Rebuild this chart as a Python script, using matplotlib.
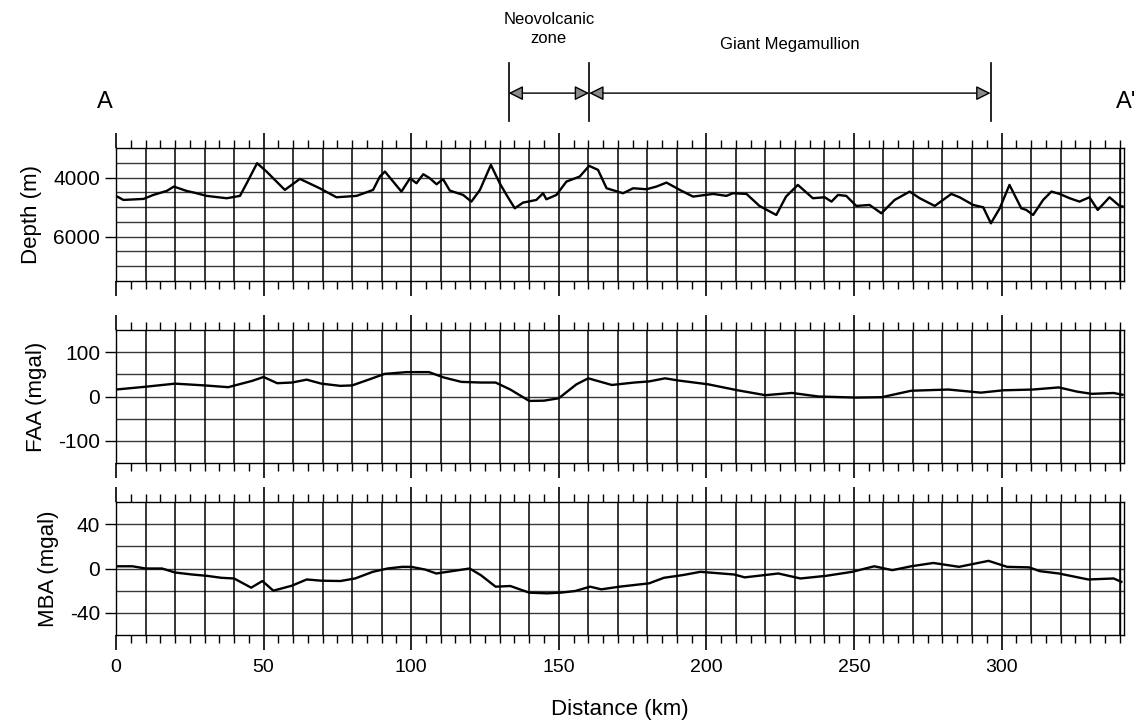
import numpy as np
import matplotlib.pyplot as plt

plt.rcParams['font.family'] = ['Liberation Sans', 'DejaVu Sans']
plt.rcParams['axes.unicode_minus'] = False

# depth profile (m)
depth_km = [0, 2.5, 9.3, 12.6, 17.2, 19.6, 23.9, 27.3, 30.7, 37.5, 42, 44.3, 47.8, 51,
            57.2, 62.3, 69, 74.7, 81.5, 87.1, 89.4, 91.1, 93.9, 96.7, 99.6, 101.8,
            104.1, 106.3, 108.6, 110.8, 113.1, 117.6, 120.4, 123.3, 127, 130, 132.3,
            135.1, 137.9, 142.4, 144.7, 145.8, 149.2, 152.6, 157.1, 160.3, 163.3,
            166.2, 171.8, 175.2, 179.7, 183.1, 186.5, 191, 195.5, 202.3, 206.8, 209,
            213.6, 218, 223.7, 227, 231, 236.1, 240.1, 242.4, 244.6, 247.4, 250.8,
            255.3, 259.3, 263.8, 268.9, 272.3, 277.4, 283, 285.8, 290.4, 293.8, 296.4,
            299.4, 302.7, 306.7, 308.4, 310.7, 314.1, 316.9, 319.7, 323.1, 326.4,
            329.8, 332.6, 336.6, 340, 341]
depth_m = [4620, 4757, 4723, 4590, 4452, 4305, 4452, 4530, 4620, 4700, 4620, 4190, 3514,
           3797, 4418, 4045, 4362, 4667, 4620, 4418, 3966, 3797, 4136, 4475, 4023, 4192,
           3887, 4023, 4226, 4056, 4441, 4588, 4814, 4418, 3571, 4192, 4588, 5040, 4848,
           4757, 4531, 4735, 4588, 4136, 3966, 3605, 3740, 4362, 4531, 4362, 4396, 4305,
           4170, 4418, 4644, 4554, 4620, 4531, 4554, 4960, 5266, 4644, 4249, 4700, 4667,
           4814, 4588, 4620, 4960, 4927, 5209, 4757, 4475, 4700, 4960, 4554, 4667, 4927,
           5006, 5548, 5040, 4249, 5040, 5096, 5266, 4757, 4475, 4554, 4700, 4814, 4667,
           5096, 4667, 4960, 4980]

# free-air anomaly (mgal)
faa_km = [0, 10, 20, 30, 38, 46, 50, 54.6, 59.6, 64.6, 69.6, 76, 80, 86, 91, 98.5, 106,
          111, 117, 123.6, 128.6, 133.6, 140, 145, 150, 156, 160, 168, 175.6, 180.6, 186,
          190.6, 200.6, 210.6, 220, 229, 238, 250.6, 259.4, 269.4, 282, 293, 300.6,
          310.6, 319.4, 325.6, 330.6, 338, 341]
faa = [15.7, 22, 29, 25, 21, 35, 44, 30, 31.5, 38, 29, 24, 25, 39, 51, 55, 55, 43, 33,
       31.5, 31.5, 15.7, -10, -9.4, -4, 27.5, 41, 26, 31.5, 34, 41, 36, 27.5, 14, 3, 8,
       0, -2.4, -1.6, 13, 15.7, 8.7, 14, 15.7, 20.5, 11, 6, 7.9, 4]

# mantle Bouguer anomaly (mgal)
mba_km = [0, 5.6, 10, 15.6, 20, 25.7, 30.7, 35.7, 40, 45.8, 49.6, 53.3, 59.6, 64.6, 69.6,
          76, 81, 87, 92, 97, 100, 104.8, 108.5, 114.8, 119.8, 123.6, 128.6, 133.6, 140,
          146, 150.6, 155.6, 160.6, 164.4, 170.6, 180.6, 185.6, 191.9, 198, 209.4, 213,
          224.4, 231.9, 240.6, 249.4, 256.9, 263, 269.4, 276.9, 285.6, 295.6, 301.9,
          309.4, 313, 319.4, 329.4, 338, 340.6]
mba = [2, 2, 0, 0, -3.6, -5.4, -6.6, -8.4, -9, -17.3, -11.3, -20, -15.5, -9.9, -11,
       -11.3, -9, -3, 0, 1.5, 1.5, -1, -4.5, -2, 0, -6, -16.4, -15.8, -21.8, -22.4,
       -21.8, -20.3, -16.4, -18.8, -16.4, -13.4, -8.4, -6, -3, -5.4, -8, -4.5, -9, -6.6,
       -3, 2, -1.5, 2, 5, 1.5, 6.9, 1.5, 1, -2.4, -4.5, -9.9, -9, -12]

zone_edges = [133, 160.3, 296.3]
x_max = 341.5

fig = plt.figure(figsize=(11.39, 7.25), dpi=100)
left, width = 116 / 1139, 1008 / 1139

panels = [
    (depth_km, depth_m, 'Depth (m)', (7500, 3000), 500, [4000, 6000], 281),
    (faa_km, faa, 'FAA (mgal)', (-150, 150), 50, [100, 0, -100], 463),
    (mba_km, mba, 'MBA (mgal)', (-60, 60), 20, [40, 0, -40], 635),
]

axes = []
for xs, ys, label, ylim, step, yt, bot_px in panels:
    ax = fig.add_axes([left, 1 - bot_px / 725, width, 133 / 725])
    ax.set_xlim(0, x_max)
    ax.set_ylim(*ylim)
    lo, hi = min(ylim), max(ylim)
    for v in np.arange(lo + step, hi, step):
        ax.axhline(v, color='#3a3a3a', lw=1.0, zorder=1)
    for v in np.arange(10, x_max, 10):
        ax.axvline(v, color='black', lw=1.1, zorder=1)
    ax.axvline(340, color='black', lw=1.0, zorder=1)
    ax.plot(xs, ys, color='black', lw=1.7, zorder=3)
    ax.set_yticks(yt)
    ax.set_ylabel(label, fontsize=16, labelpad=8)
    ax.set_xticks(np.arange(0, 301, 50))
    ax.set_xticks(np.arange(0, x_max, 5), minor=True)
    ax.tick_params(axis='x', which='major', direction='out', length=11, width=1.2,
                   top=True, labelsize=14)
    ax.tick_params(axis='x', which='minor', direction='out', length=6, width=1.0, top=True)
    ax.tick_params(axis='y', direction='out', length=8, width=1.0, labelsize=15)
    for s in ax.spines.values():
        s.set_linewidth(1.0)
    ax.set_xticklabels([])
    axes.append(ax)

axes[-1].set_xticklabels([str(v) for v in range(0, 301, 50)])
axes[-1].tick_params(axis='x', pad=6)
axes[-1].set_xlabel('Distance (km)', fontsize=16, labelpad=17)

# zone annotations above the profiles
top = fig.add_axes([left, 1 - 125 / 725, width, 125 / 725])
top.set_xlim(0, x_max)
top.set_ylim(0, 1)
top.axis('off')
for xe in zone_edges:
    top.plot([xe, xe], [0.03, 0.5], color='black', lw=1.2, clip_on=False)
arrow_kw = dict(arrowstyle='<|-|>', mutation_scale=22, lw=1.0, shrinkA=0, shrinkB=0,
                fc='#8a8a8a', ec='black')
top.annotate('', xy=(zone_edges[0], 0.255), xytext=(zone_edges[1], 0.255),
             arrowprops=arrow_kw)
top.annotate('', xy=(zone_edges[1], 0.255), xytext=(zone_edges[2], 0.255),
             arrowprops=arrow_kw)
top.text((zone_edges[0] + zone_edges[1]) / 2, 0.77, 'Neovolcanic\nzone', ha='center',
         va='center', fontsize=12, linespacing=1.3)
top.text((zone_edges[1] + zone_edges[2]) / 2, 0.64, 'Giant Megamullion', ha='center',
         va='center', fontsize=12)
top.text(-3.7, 0.18, 'A', ha='center', va='center', fontsize=17)
top.text(342.3, 0.18, "A'", ha='center', va='center', fontsize=17, clip_on=False)

fig.savefig('out.png', dpi=100)
